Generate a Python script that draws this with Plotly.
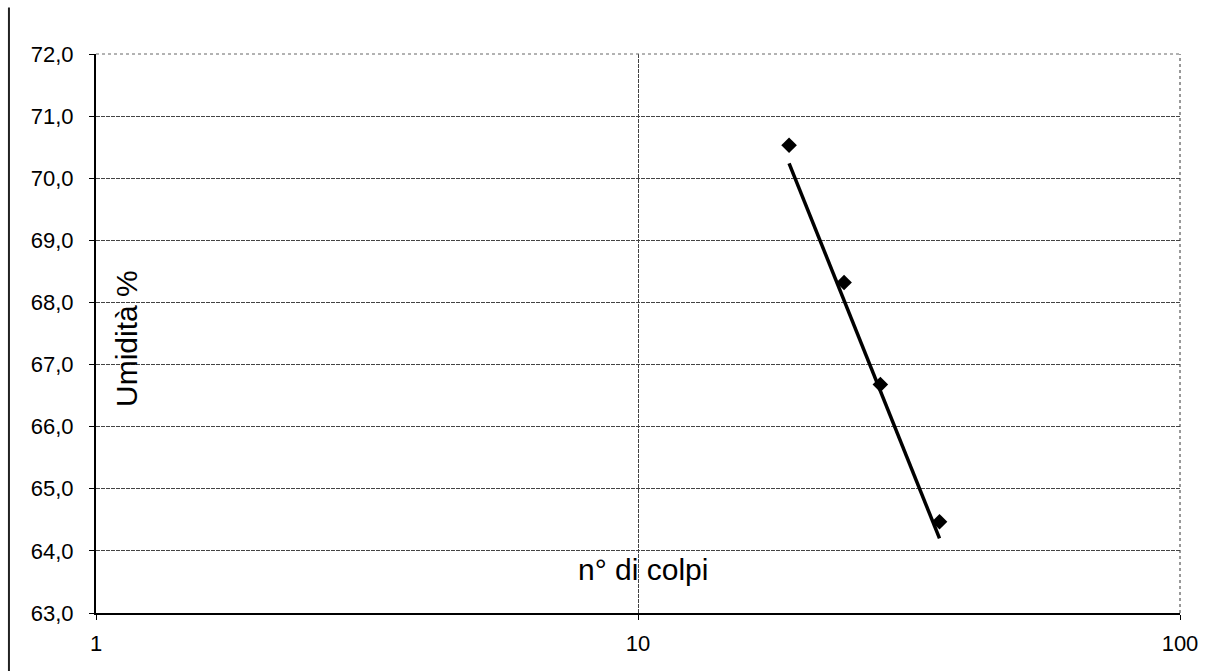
import plotly.graph_objects as go

# Casagrande test readings: number of blows vs. water content
colpi = [19, 24, 28, 36]
umidita = [70.53, 68.32, 66.68, 64.47]

# Trend line end points (log x)
trend_colpi = [19, 36]
trend_umidita = [70.24, 64.20]

y_ticks = [63, 64, 65, 66, 67, 68, 69, 70, 71, 72]
x_ticks = [1, 10, 100]
x_tick_text = ["1", "10", "100"]

FONT = "Liberation Sans, Arial, sans-serif"
GRID_DASH = "4px,1px"

fig = go.Figure()

fig.add_trace(go.Scatter(
    x=trend_colpi, y=trend_umidita, mode="lines",
    line=dict(color="black", width=3.5), showlegend=False, hoverinfo="skip",
))
fig.add_trace(go.Scatter(
    x=colpi, y=umidita, mode="markers",
    marker=dict(symbol="diamond", size=12, color="black"),
    showlegend=False,
))

fig.update_xaxes(
    type="log", range=[0, 2],
    tickvals=x_ticks, ticktext=x_tick_text,
    showgrid=True, gridcolor="#444", gridwidth=1, griddash=GRID_DASH,
    showline=True, linecolor="black", linewidth=2,
    ticks="outside", ticklen=5, tickcolor="black", tickwidth=1,
    ticklabelstandoff=5,
    tickfont=dict(family=FONT, size=22, color="black"),
    zeroline=False, mirror=False,
)
fig.update_yaxes(
    range=[63, 72], tickvals=y_ticks, tickformat=".1f",
    showgrid=True, gridcolor="#444", gridwidth=1, griddash=GRID_DASH,
    showline=True, linecolor="black", linewidth=2,
    ticks="outside", ticklen=5, tickcolor="black", tickwidth=1,
    ticklabelstandoff=11,
    tickfont=dict(family=FONT, size=22, color="black"),
    zeroline=False,
)

# Top and right frame of the plot area (dotted)
fig.add_shape(type="line", xref="paper", yref="paper", x0=0, x1=1, y0=1, y1=1,
              line=dict(color="#666", width=1, dash="dot"))
fig.add_shape(type="line", xref="paper", yref="paper", x0=1, x1=1, y0=0, y1=1,
              line=dict(color="#333", width=1, dash="dot"))
# Left edge of the chart frame
fig.add_shape(type="line", xref="paper", yref="paper",
              x0=-0.0803, x1=-0.0803, y0=-0.11, y1=1.083,
              line=dict(color="#222", width=2))

fig.add_annotation(text="n° di colpi", xref="x", yref="paper",
                   x=1.009, y=0.045, showarrow=False,
                   xanchor="center", yanchor="bottom",
                   font=dict(family=FONT, size=30, color="black"))
fig.add_annotation(text="Umidità %", xref="paper", yref="paper",
                   x=0.0281, y=0.491, showarrow=False, textangle=-90,
                   xanchor="center", yanchor="middle",
                   font=dict(family=FONT, size=30, color="black"))

fig.update_layout(
    width=1214, height=671,
    margin=dict(l=96, r=34, t=54, b=58),
    paper_bgcolor="white", plot_bgcolor="white",
    separators=", ",
    font=dict(family=FONT, color="black"),
)

fig.write_html("out.html")
